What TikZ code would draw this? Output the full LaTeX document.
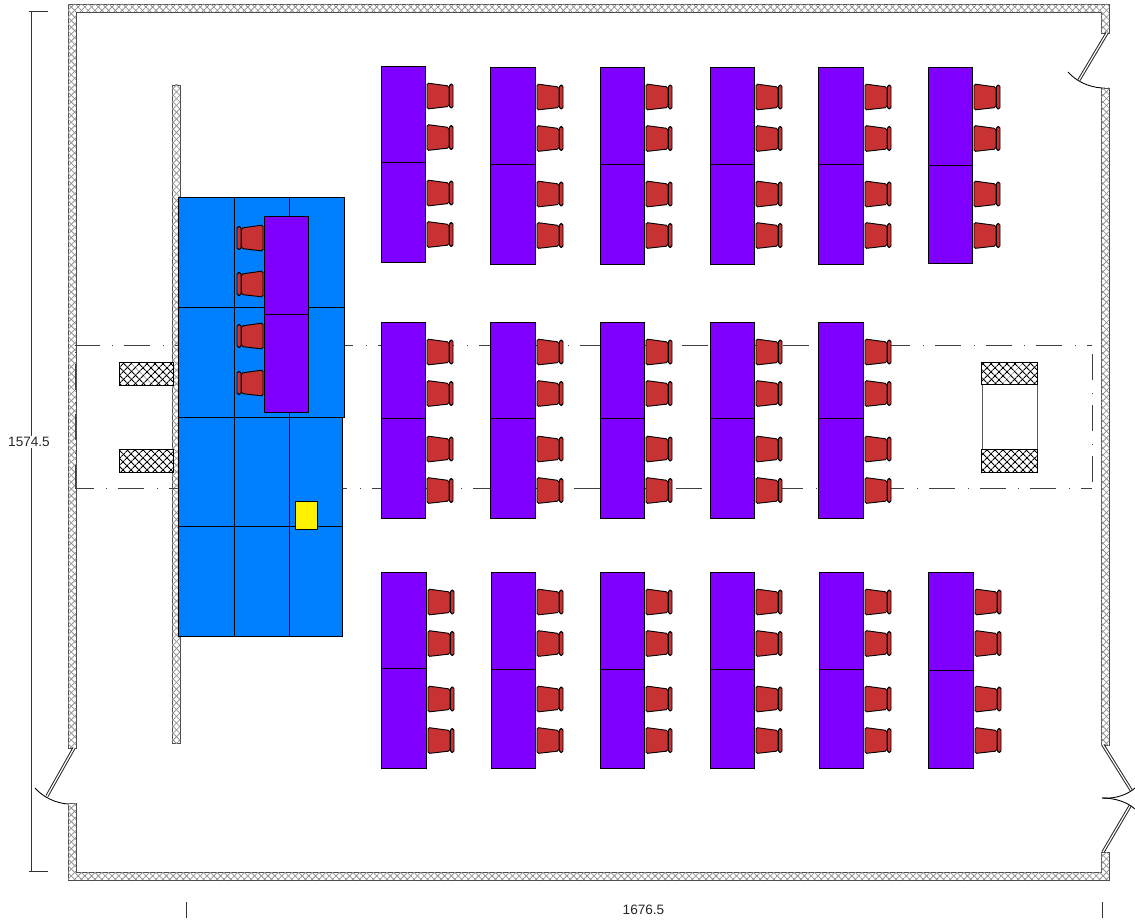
\documentclass[tikz,border=0pt]{standalone}
\usepackage{fontspec}
\setmainfont{Liberation Sans}
\usetikzlibrary{patterns.meta}
\tikzset{
  x=0.75pt,y=-0.75pt,
  wallfill/.style={draw=black!70,line width=0.55pt,fill=white,
    postaction={pattern={Lines[angle=45,distance=3.6pt,line width=0.6pt]},pattern color=black!42},
    postaction={pattern={Lines[angle=-45,distance=3.6pt,line width=0.6pt]},pattern color=black!42}},
  blockfill/.style={draw=black,line width=0.6pt,fill=white,
    postaction={pattern={Lines[angle=45,distance=4pt,line width=0.8pt]},pattern color=black},
    postaction={pattern={Lines[angle=-45,distance=4pt,line width=0.8pt]},pattern color=black}},
  tablebox/.style={draw=black,line width=0.6pt,fill=tablepurple},
  stagebox/.style={draw=black,line width=0.6pt,fill=stageblue},
  seatshape/.style={draw=black,line width=0.7pt,fill=chairred,rounded corners=1.2pt},
  thin/.style={line width=0.65pt},
  leaf/.style={line width=0.75pt,double=white,double distance=0.9pt,draw=black!85},
  dim/.style={draw=black!80,line width=0.65pt},
  dimtext/.style={font=\fontsize{10.2}{12}\selectfont,inner sep=1pt,text=black!85},
  zone/.style={draw=black!75,line width=0.55pt}
}
\definecolor{tablepurple}{RGB}{127,0,255}
\definecolor{stageblue}{RGB}{0,128,255}
\definecolor{chairred}{RGB}{200,50,50}
\newcommand{\chairR}[2]{% #1 = table right edge, #2 = centre y
  \draw[seatshape] (#1+2,#2-13) -- (#1+24,#2-10) -- (#1+24,#2+10.5) -- (#1+2,#2+13) -- cycle;
  \draw[seatshape] (#1+24.5,#2-12) rectangle (#1+28,#2+12);
}
\newcommand{\chairL}[2]{% #1 = table left edge, #2 = centre y
  \draw[seatshape] (#1-1,#2-13) -- (#1-22.5,#2-10) -- (#1-22.5,#2+10.5) -- (#1-1,#2+13) -- cycle;
  \draw[seatshape] (#1-23,#2-11.5) rectangle (#1-27,#2+11.5);
}
\newcommand{\tableset}[5]{% left, right, top, split, bottom
  \draw[tablebox] (#1,#3) rectangle (#2,#5);
  \draw[thin] (#1,#4) -- (#2,#4);
  \chairR{#2}{#3+30}\chairR{#2}{#3+71.5}\chairR{#2}{#3+127}\chairR{#2}{#3+168.5}
}
\begin{document}
\begin{tikzpicture}
\useasboundingbox (0,0) rectangle (1135,920);
% walls
\draw[wallfill] (1109,33) -- (1109,4) -- (68,4) -- (68,748) -- (76,748) -- (76,12) -- (1101,12) -- (1101,33) -- cycle;
\draw[wallfill] (68,803) -- (68,880) -- (1109,880) -- (1109,852) -- (1101,852) -- (1101,872) -- (76,872) -- (76,803) -- cycle;
\draw[wallfill] (1101,88) rectangle (1109,745);
% doors
\draw[leaf] (1107,33) -- (1079,80);
\draw[thin] (1068,72) .. controls (1076,81) and (1088,87) .. (1102,88);
\draw[leaf] (74,748) -- (47,796);
\draw[thin] (35,788) .. controls (43,797) and (55,803) .. (68,804);
\draw[leaf] (1103,745) -- (1131,790);
\draw[thin] (1135,788) .. controls (1127,795) and (1115,799) .. (1102,798);
\draw[leaf] (1103,852) -- (1130,806);
\draw[thin] (1135,809) .. controls (1127,802) and (1115,798) .. (1102,798);
% backdrop
\draw[wallfill] (172,85) rectangle (180,743);
% zone
\draw[zone,dash pattern=on 19.5pt off 9.5pt on 0.8pt off 8.2pt,dash phase=1pt] (75,345) -- (1092,345);
\draw[zone,dash pattern=on 19.5pt off 9.5pt on 0.8pt off 8.2pt,dash phase=5.5pt] (75,488) -- (1092,488);
\draw[zone,dash pattern=on 19.5pt off 9.5pt on 0.8pt off 8.2pt,dash phase=31pt] (1092,345) -- (1092,488);
\draw[zone,dash pattern=on 19.5pt off 9.5pt on 0.8pt off 8.2pt,dash phase=24pt] (75,345) -- (75,488);
% stage
\draw[stagebox] (178,417) rectangle (342,636);
\draw[thin] (178,526) -- (342,526) (234,417) -- (234,636) (289,417) -- (289,636);
\draw[stagebox] (178,197) rectangle (344,417);
\draw[thin] (178,307) -- (344,307) (234,197) -- (234,417) (289,197) -- (289,417);
% stage furniture
\draw[tablebox] (264,216) rectangle (308,412);
\draw[thin] (264,314) -- (308,314);
\chairL{264}{238}\chairL{264}{284}\chairL{264}{336}\chairL{264}{383}
\draw[draw=black,line width=0.6pt,fill=yellow] (295,501) rectangle (317,529);
% hatched blocks
\draw[blockfill] (119,362) rectangle (173,385);
\draw[blockfill] (119,449) rectangle (173,472);
\draw[draw=black!65,line width=0.65pt] (982,362) rectangle (1037,471);
\draw[blockfill] (981,362) rectangle (1037,384);
\draw[blockfill] (981,449) rectangle (1037,472);
% tables row 1
\tableset{381}{425}{66}{162}{262}
\tableset{490}{535}{67}{164}{264}
\tableset{600}{644}{67}{164}{264}
\tableset{710}{754}{67}{164}{264}
\tableset{818}{863}{67}{164}{264}
\tableset{928}{972}{67}{165}{263}
% row 2
\tableset{381}{425}{322}{418}{518}
\tableset{490}{535}{322}{418}{518}
\tableset{600}{644}{322}{418}{518}
\tableset{710}{754}{322}{418}{518}
\tableset{818}{863}{322}{418}{518}
% row 3
\tableset{381}{426}{572}{668}{768}
\tableset{491}{535}{572}{669}{768}
\tableset{600}{644}{572}{669}{768}
\tableset{710}{754}{572}{669}{768}
\tableset{819}{863}{572}{669}{768}
\tableset{928}{973}{572}{670}{768}
% dimensions
\node[dimtext,fill=white] (dimv) at (29,442) {1574.5};
\coordinate (vtop) at (31,11);
\coordinate (vbot) at (31,871);
\draw[dim] (vtop) -- (dimv.north -| vtop) (dimv.south -| vtop) -- (vbot);
\draw[dim] (29,11) -- (48,11) (29,871) -- (48,871);
\node[dimtext] (dimh) at (643.5,910) {1676.5};
\draw[dim] (186,902) -- (186,918) (1102,902) -- (1102,918);
\end{tikzpicture}
\end{document}
